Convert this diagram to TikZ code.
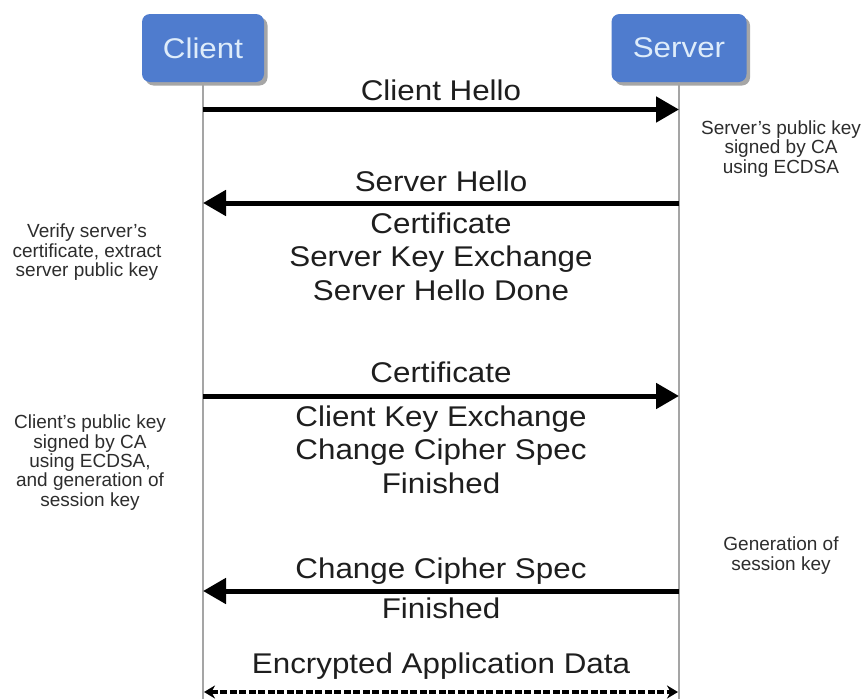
\documentclass[tikz,border=0pt]{standalone}
\usepackage{fontspec}
\setmainfont{Liberation Sans}
\newfontfamily\msgfont[FakeStretch=1.1]{Liberation Sans}
\usetikzlibrary{arrows.meta}
\definecolor{boxblue}{RGB}{79,124,206}
\definecolor{boxtext}{RGB}{222,236,250}
\definecolor{txt}{RGB}{30,30,30}
\definecolor{notetxt}{RGB}{45,45,45}
\definecolor{lifegray}{RGB}{165,165,165}
\begin{document}
\begin{tikzpicture}[x=1pt,y=-1pt,
 actor/.style={rectangle, rounded corners=8pt, fill=boxblue, text=boxtext, font=\msgfont\fontsize{28.5}{34}\selectfont, minimum height=68pt, inner sep=0pt},
 shadowbox/.style={rectangle, rounded corners=8pt, fill=black, fill opacity=0.35, minimum height=68pt, inner sep=0pt},
 msg/.style={font=\msgfont\fontsize{28.5}{33.5}\selectfont, text=txt, align=center, inner sep=0pt, anchor=base},
 note/.style={font=\fontsize{19}{19.3}\selectfont, text=notetxt, align=center, inner sep=0pt, anchor=base},
 lifeline/.style={draw=lifegray, line width=1.3pt},
 msgarrow/.style={line width=5pt, -{Triangle[length=23pt,width=25pt]}},
 dataarrow/.style={line width=4pt, dash pattern=on 7pt off 2.5pt, {Stealth[length=11pt,width=13pt]}-{Stealth[length=11pt,width=13pt]}},
]
\useasboundingbox (0,0) rectangle (865,699);
\fill[white] (0,0) rectangle (865,699);

% shadows
\node[shadowbox, minimum width=122pt] (clientShadow) at (206.5,51.5) {};
\node[shadowbox, minimum width=135pt] (serverShadow) at (682.5,51.5) {};
% actors
\node[actor, minimum width=122pt] (client) at (203,48) {Client};
\node[actor, minimum width=135pt] (server) at (679,48) {Server};

% lifelines
\coordinate (clientEnd) at (203,699);
\coordinate (serverEnd) at (679,699);
\draw[lifeline] (client.south) -- (clientEnd);
\draw[lifeline] (server.south) -- (serverEnd);

% message anchor points
\coordinate (c1) at (203,109.5); \coordinate (s1) at (679,109.5);
\coordinate (c2) at (203,203);   \coordinate (s2) at (679,203);
\coordinate (c3) at (203,396);   \coordinate (s3) at (679,396);
\coordinate (c4) at (203,591);   \coordinate (s4) at (679,591);
\coordinate (c5) at (204,692);   \coordinate (s5) at (678,692);

\draw[msgarrow] (c1) -- (s1);
\draw[msgarrow] (s2) -- (c2);
\draw[msgarrow] (c3) -- (s3);
\draw[msgarrow] (s4) -- (c4);
\draw[dataarrow] (c5) -- (s5);

% message labels (base anchor = baseline of last line)
\node[msg] (mClientHello) at (441,100) {Client Hello};
\node[msg] (mServerHello) at (441,191) {Server Hello};
\node[msg] (mServerMsgs) at (441,300) {Certificate\\Server Key Exchange\\Server Hello Done};
\node[msg] (mCert) at (441,382) {Certificate};
\node[msg] (mClientMsgs) at (441,493) {Client Key Exchange\\Change Cipher Spec\\Finished};
\node[msg] (mCCS) at (441,578) {Change Cipher Spec};
\node[msg] (mFin) at (441,618) {Finished};
\node[msg] (mData) at (441,673) {Encrypted Application Data};

% side notes
\node[note] (nServerKey) at (781,173) {Server's public key\\signed by CA\\using ECDSA};
\node[note] (nVerify) at (87,276.5) {Verify server's\\certificate, extract\\server public key};
\node[note] (nClientKey) at (90,506) {Client's public key\\signed by CA\\using ECDSA,\\and generation of\\session key};
\node[note] (nGen) at (781,570) {Generation of\\session key};
\end{tikzpicture}
\end{document}
